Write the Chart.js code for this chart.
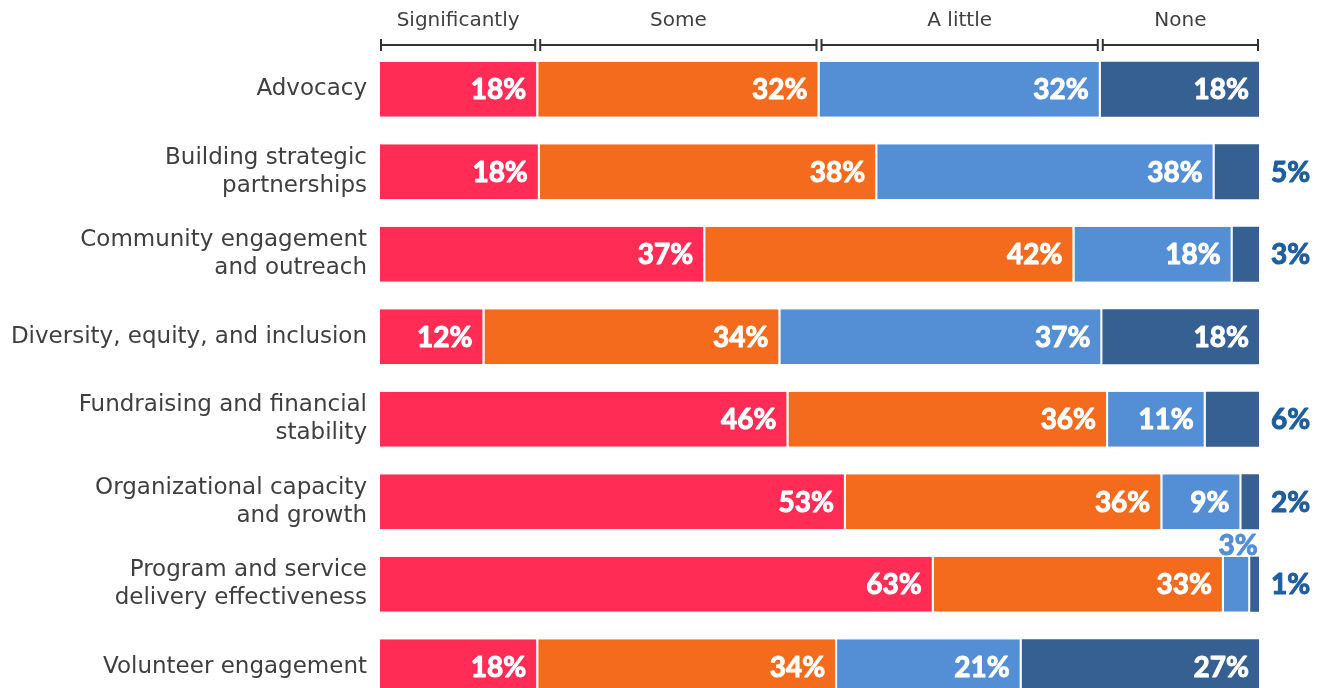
<!DOCTYPE html>
<html>
<head>
<meta charset="utf-8">
<script src="https://cdn.jsdelivr.net/npm/chart.js@4"></script>
<style>
  html, body { margin: 0; padding: 0; background: #fff; overflow: hidden; }
  #wrap { position: relative; width: 1327px; height: 735px; }
</style>
</head>
<body>
<div id="wrap"><canvas id="c" width="1327" height="735"></canvas></div>
<script>
const categories = [
  'Advocacy',
  ['Building strategic', 'partnerships'],
  ['Community engagement', 'and outreach'],
  'Diversity, equity, and inclusion',
  ['Fundraising and financial', 'stability'],
  ['Organizational capacity', 'and growth'],
  ['Program and service', 'delivery effectiveness'],
  'Volunteer engagement'
];
const seriesNames = ['Significantly', 'Some', 'A little', 'None'];
const significantly = [18, 18, 37, 12, 46, 53, 63, 18];
const some          = [32, 38, 42, 34, 36, 36, 33, 34];
const aLittle       = [32, 38, 18, 37, 11,  9,  3, 21];
const none          = [18,  5,  3, 18,  6,  2,  1, 27];

const colors = ['#FF2D55', '#F56B1E', '#548FD6', '#366091'];
const seriesValues = [significantly, some, aLittle, none];
const rowTotals = categories.map((_, i) => seriesValues.reduce((s, a) => s + a[i], 0));

const LABEL_FONT = '"DejaVu Sans", sans-serif';
const BOLD_FONT = 'Lato, sans-serif';

function boldText(ctx, txt, x, y, color) {
  ctx.fillStyle = color;
  ctx.strokeStyle = color;
  ctx.lineWidth = 1;
  ctx.lineJoin = 'round';
  ctx.strokeText(txt, x, y);
  ctx.fillText(txt, x, y);
}

const labelPlugin = {
  id: 'labels',
  afterDatasetsDraw(chart) {
    const ctx = chart.ctx;
    const area = chart.chartArea;
    ctx.save();
    chart.data.datasets.forEach((ds, di) => {
      const meta = chart.getDatasetMeta(di);
      meta.data.forEach((bar, i) => {
        const v = ds.raw[i];
        const txt = v + '%';
        ctx.font = 'bold 28px ' + BOLD_FONT;
        ctx.textBaseline = 'middle';
        if (di === 3 && v <= 6) {
          ctx.textAlign = 'left';
          boldText(ctx, txt, area.right + 12, bar.y + 1, '#1F5E9E');
        } else if (di === 2 && v <= 3) {
          ctx.textAlign = 'center';
          ctx.textBaseline = 'bottom';
          boldText(ctx, txt, (bar.x + bar.base) / 2 + 1, bar.y - bar.height / 2 + 3, colors[2]);
        } else {
          ctx.textAlign = 'right';
          const end = di < 3 ? bar.x - 2 : bar.x;
          boldText(ctx, txt, end - 10, bar.y + 1, '#ffffff');
        }
      });
    });
    // header brackets above first row
    const yLine = 45;
    ctx.strokeStyle = '#333333';
    ctx.lineWidth = 2;
    ctx.fillStyle = '#3f3f3f';
    ctx.font = '20px ' + LABEL_FONT;
    ctx.textAlign = 'center';
    ctx.textBaseline = 'middle';
    chart.data.datasets.forEach((ds, di) => {
      const bar = chart.getDatasetMeta(di).data[0];
      const l = bar.base + (di === 0 ? 1 : 2);
      const r = di < 3 ? bar.x - 3 : bar.x - 1;
      ctx.beginPath();
      ctx.moveTo(l, yLine); ctx.lineTo(r, yLine);
      ctx.moveTo(l, yLine - 6); ctx.lineTo(l, yLine + 6);
      ctx.moveTo(r, yLine - 6); ctx.lineTo(r, yLine + 6);
      ctx.stroke();
      ctx.fillText(seriesNames[di], (l + r) / 2, 21);
    });
    ctx.restore();
  }
};

new Chart(document.getElementById('c'), {
  type: 'bar',
  data: {
    labels: categories,
    datasets: seriesValues.map((arr, di) => ({
      label: seriesNames[di],
      raw: arr,
      data: arr.map((v, i) => v / rowTotals[i] * 100),
      backgroundColor: colors[di],
      borderColor: '#ffffff',
      borderWidth: di < 3 ? { right: 2, left: 0, top: 0, bottom: 0 } : 0,
      borderSkipped: false,
      barPercentage: 0.668,
      categoryPercentage: 1
    }))
  },
  options: {
    indexAxis: 'y',
    responsive: false,
    animation: false,
    devicePixelRatio: 1,
    layout: { padding: { top: 48, right: 68, bottom: 14, left: 0 } },
    plugins: { legend: { display: false }, tooltip: { enabled: false } },
    scales: {
      x: { stacked: true, min: 0, max: 100, display: false },
      y: {
        stacked: true,
        grid: { display: false, drawTicks: false },
        border: { display: false },
        ticks: {
          padding: 13,
          color: '#3f3f3f',
          font: { family: LABEL_FONT, size: 23, lineHeight: 1.22 }
        },
        afterFit(scale) { scale.width = 380; }
      }
    }
  },
  plugins: [labelPlugin]
});
</script>
</body>
</html>
